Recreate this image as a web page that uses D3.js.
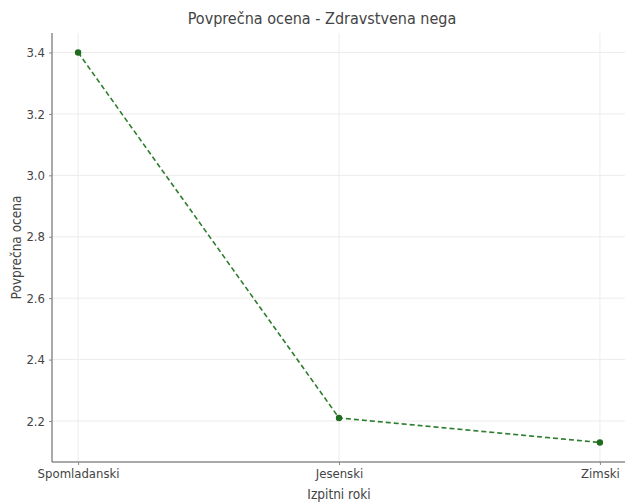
<!DOCTYPE html>
<html><head><meta charset="utf-8">
<script src="https://cdn.jsdelivr.net/npm/d3@7"></script>
<style>body{margin:0;background:#fff}svg{display:block}text{font-family:"DejaVu Sans Condensed","DejaVu Sans",sans-serif}</style>
</head><body>
<script>
const categories = ["Spomladanski", "Jesenski", "Zimski"];
const values = [3.40, 2.21, 2.13];
const yTicks = [2.2, 2.4, 2.6, 2.8, 3.0, 3.2, 3.4];
const title = "Povprečna ocena - Zdravstvena nega";
const xLabel = "Izpitni roki";
const yLabel = "Povprečna ocena";

const W = 625, H = 503;
const m = {left: 52, right: -1, top: 33, bottom: 41};
const svg = d3.select("body").append("svg").attr("width", W).attr("height", H);
const x = d3.scaleLinear().domain([-0.1, 2.1]).range([m.left, W - m.right]);
const y = d3.scaleLinear().domain([2.0665, 3.4635]).range([H - m.bottom, m.top]);
const idx = categories.map((c, i) => i);

// grid
svg.append("g").selectAll("line").data(yTicks).join("line")
  .attr("x1", m.left).attr("x2", W - m.right).attr("y1", d => y(d)).attr("y2", d => y(d))
  .attr("stroke", "#ececec").attr("stroke-width", 1);
svg.append("g").selectAll("line").data(idx).join("line")
  .attr("y1", m.top).attr("y2", H - m.bottom).attr("x1", d => x(d)).attr("x2", d => x(d))
  .attr("stroke", "#ececec").attr("stroke-width", 1);

// axes
const yAxis = d3.axisLeft(y).tickValues(yTicks).tickFormat(d3.format(".1f")).tickSize(3).tickPadding(4);
const gy = svg.append("g").attr("transform", `translate(${m.left},0)`).call(yAxis);
gy.select(".domain").attr("stroke", "#555").attr("d", `M0,${m.top}V${H - m.bottom}`);
gy.selectAll(".tick line").attr("stroke", "#888");
gy.selectAll("text").attr("fill", "#444").attr("font-size", 13);

const xAxis = d3.axisBottom(x).tickValues(idx).tickFormat(i => categories[i]).tickSize(3).tickPadding(4);
const gx = svg.append("g").attr("transform", `translate(0,${H - m.bottom})`).call(xAxis);
gx.select(".domain").attr("stroke", "#555").attr("d", `M${m.left},0H${W - m.right}`);
gx.selectAll(".tick line").attr("stroke", "#888");
gx.selectAll("text").attr("fill", "#444").attr("font-size", 13);

// line
const line = d3.line().x((d, i) => x(i)).y(d => y(d));
svg.append("path").datum(values).attr("d", line).attr("fill", "none")
  .attr("stroke", "#2e7d2e").attr("stroke-width", 1.6).attr("stroke-dasharray", "5,3");
svg.append("g").selectAll("circle").data(values).join("circle")
  .attr("cx", (d, i) => x(i)).attr("cy", d => y(d)).attr("r", 3.2).attr("fill", "#1f6b1f");

// labels
svg.append("text").attr("x", 322).attr("y", 24).attr("text-anchor", "middle")
  .attr("font-size", 16).attr("fill", "#444").text(title);
svg.append("text").attr("x", (m.left + W - m.right) / 2).attr("y", 499).attr("text-anchor", "middle")
  .attr("font-size", 13.5).attr("fill", "#444").text(xLabel);
svg.append("text").attr("transform", `translate(21,${(m.top + H - m.bottom) / 2}) rotate(-90)`)
  .attr("text-anchor", "middle").attr("font-size", 13.5).attr("fill", "#444").text(yLabel);
</script>
</body></html>
